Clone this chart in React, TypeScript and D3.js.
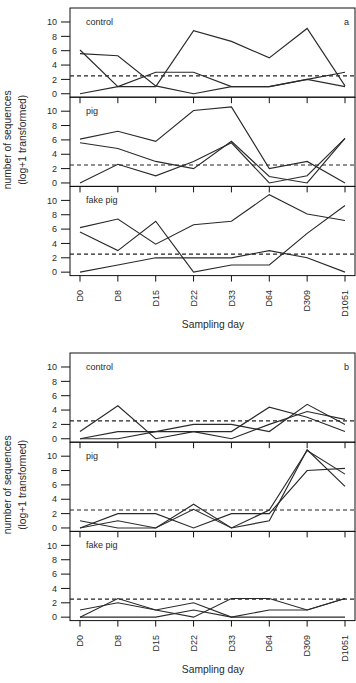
import * as d3 from "d3";

const WIDTH = 356;
const HEIGHT = 683;

// sampling days on the x axis
const days = ["D0", "D8", "D15", "D22", "D33", "D64", "D309", "D1051"];
const yTicks = [0, 2, 4, 6, 8, 10];
const groups = ["control", "pig", "fake pig"];
const THRESHOLD = 2.5;

// block a: three replicate series per group (log+1 transformed counts)
const aControl = [
  [6.1, 1.0, 1.0, 8.8, 7.3, 5.0, 9.1, 1.1],
  [5.6, 5.3, 1.1, 0.0, 1.0, 1.0, 2.0, 3.0],
  [0.0, 1.0, 3.0, 3.0, 1.0, 1.0, 2.0, 1.0],
];
const aPig = [
  [6.1, 7.2, 5.8, 10.1, 10.6, 2.0, 3.0, 0.0],
  [5.6, 4.8, 3.0, 2.0, 5.8, 0.9, 0.0, 6.2],
  [0.0, 2.6, 1.0, 3.0, 5.6, 0.0, 1.0, 6.2],
];
const aFakePig = [
  [6.2, 7.4, 3.9, 6.6, 7.1, 10.8, 8.1, 7.2],
  [5.6, 3.0, 7.1, 0.0, 1.0, 1.0, 5.4, 9.3],
  [0.0, 1.0, 2.0, 2.0, 2.0, 3.0, 2.0, 0.0],
];

// block b
const bControl = [
  [1.0, 4.6, 0.0, 1.0, 1.0, 4.4, 3.0, 1.0],
  [0.0, 1.0, 1.0, 2.0, 2.0, 1.0, 4.8, 2.0],
  [0.0, 0.0, 1.0, 1.0, 0.0, 2.0, 3.8, 2.7],
];
const bPig = [
  [0.0, 2.0, 2.0, 0.0, 2.0, 2.0, 8.0, 8.3],
  [1.0, 0.0, 0.0, 3.3, 0.0, 1.0, 10.9, 5.8],
  [0.0, 1.0, 0.0, 2.6, 0.0, 2.5, 10.8, 7.5],
];
const bFakePig = [
  [0.0, 2.6, 1.0, 0.0, 2.6, 2.6, 1.0, 2.6],
  [1.0, 2.0, 1.0, 2.0, 0.0, 1.0, 1.0, 2.6],
  [0.0, 0.0, 0.0, 1.0, 0.0, 0.0, 0.0, 0.0],
];

const blocks = [
  { tag: "a", top: 8, panels: [aControl, aPig, aFakePig] },
  { tag: "b", top: 353, panels: [bControl, bPig, bFakePig] },
];

const LEFT = 70;
const RIGHT = 355;
const PANEL_H = 89.2;
const FONT = "'Liberation Sans', Arial, Helvetica, sans-serif";
const INK = "#2a2a2a";

const x = d3.scalePoint<string>().domain(days).range([80, 345]);

const line = (y: d3.ScaleLinear<number, number>) =>
  d3
    .line<number>()
    .x((_, i) => x(days[i]) as number)
    .y((d) => y(d));

const Block = ({ tag, top, panels }: { tag: string; top: number; panels: number[][][] }) => {
  const bottom = top + PANEL_H * panels.length;
  const mid = (top + bottom) / 2 - 2;
  return (
    <g>
      {panels.map((series, p) => {
        const pTop = top + p * PANEL_H;
        const y = d3
          .scaleLinear()
          .domain([-0.48, 11.95])
          .range([pTop + PANEL_H, pTop]);
        const path = line(y);
        return (
          <g key={p}>
            <rect x={LEFT} y={pTop} width={RIGHT - LEFT} height={PANEL_H} fill="none" stroke="#111" strokeWidth={1} />
            {yTicks.map((t) => (
              <g key={t}>
                <line x1={61} x2={LEFT} y1={y(t)} y2={y(t)} stroke="#111" />
                <text x={57} y={y(t) + 3.2} textAnchor="end" fontSize={9} fill={INK} fontFamily={FONT}>
                  {t}
                </text>
              </g>
            ))}
            {/* x ticks hang below each panel */}
            {days.map((d) => (
              <line key={d} x1={x(d)} x2={x(d)} y1={pTop + PANEL_H} y2={pTop + PANEL_H + 6} stroke="#111" />
            ))}
            <line
              x1={LEFT}
              x2={RIGHT}
              y1={y(THRESHOLD)}
              y2={y(THRESHOLD)}
              stroke="#222"
              strokeWidth={1.2}
              strokeDasharray="4,3"
            />
            {series.map((s, i) => (
              <path key={i} d={path(s) ?? ""} fill="none" stroke={INK} strokeWidth={1.15} />
            ))}
            <text x={86} y={y(10) + 3} fontSize={9} fill={INK} fontFamily={FONT}>
              {groups[p]}
            </text>
            {p === 0 && (
              <text x={349} y={y(10) + 3} textAnchor="end" fontSize={9} fill={INK} fontFamily={FONT}>
                {tag}
              </text>
            )}
          </g>
        );
      })}
      {days.map((d) => (
        <text
          key={d}
          transform={`translate(${(x(d) as number) + 3.2},${bottom + 14.5}) rotate(-90)`}
          textAnchor="end"
          fontSize={9}
          fill={INK}
          fontFamily={FONT}
        >
          {d}
        </text>
      ))}
      <text x={213} y={bottom + 52} textAnchor="middle" fontSize={10.3} fill={INK} fontFamily={FONT}>
        Sampling day
      </text>
      <text transform={`translate(11,${mid}) rotate(-90)`} textAnchor="middle" fontSize={10.3} fill={INK} fontFamily={FONT}>
        number of sequences
      </text>
      <text transform={`translate(25.5,${mid}) rotate(-90)`} textAnchor="middle" fontSize={10.3} fill={INK} fontFamily={FONT}>
        (log+1 transformed)
      </text>
    </g>
  );
};

export default function App() {
  return (
    <svg
      width={WIDTH}
      height={HEIGHT}
      style={{ position: "absolute", left: 0, top: 0, background: "#fff" }}
    >
      <rect width={WIDTH} height={HEIGHT} fill="#fff" />
      {blocks.map((b) => (
        <Block key={b.tag} {...b} />
      ))}
    </svg>
  );
}
